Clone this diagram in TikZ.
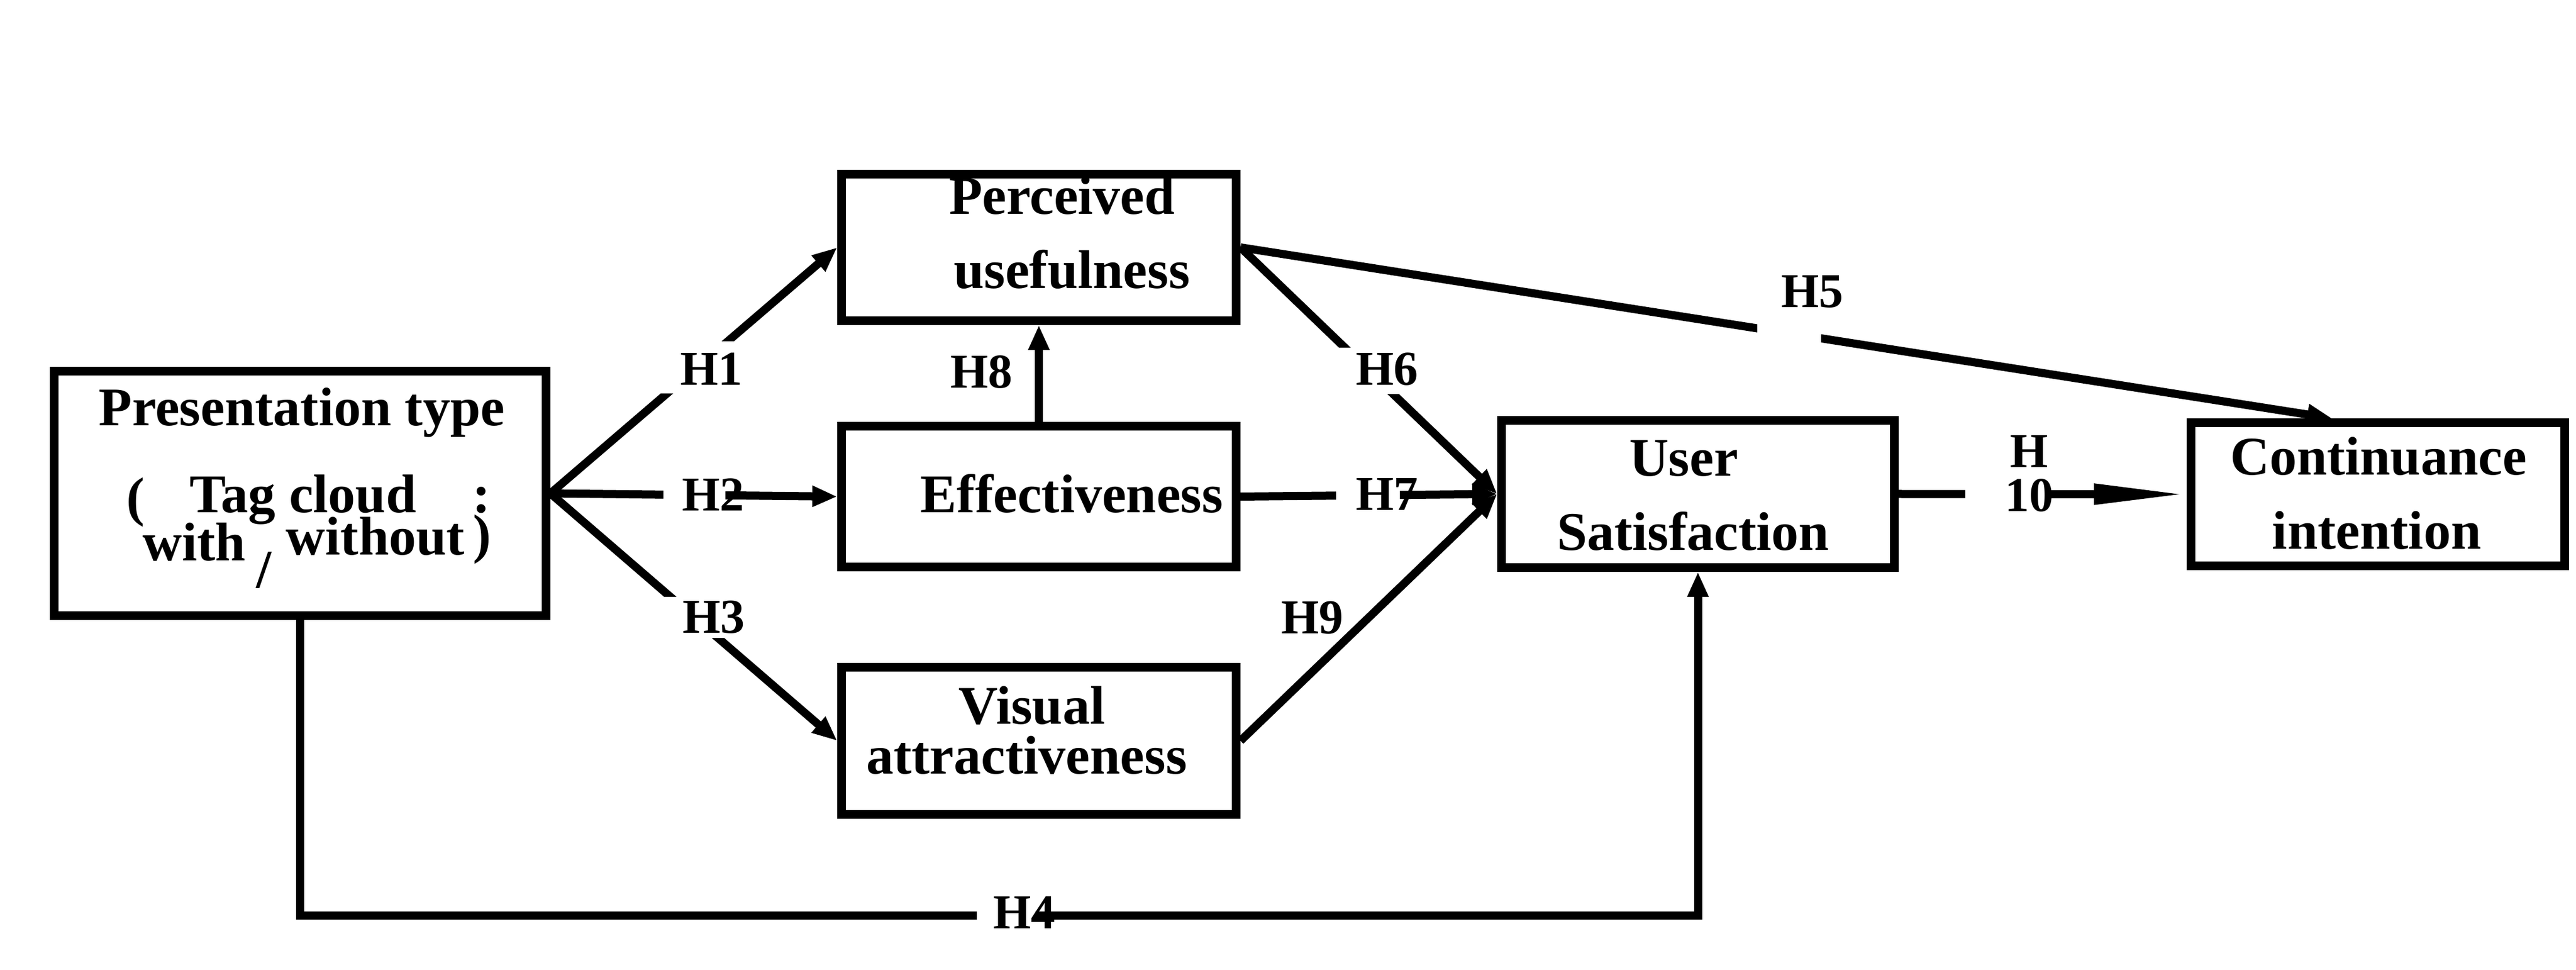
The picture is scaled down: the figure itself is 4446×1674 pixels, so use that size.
\documentclass[tikz,border=0pt]{standalone}
\usepackage{fontspec}
\setmainfont{Liberation Serif}
\usetikzlibrary{arrows.meta}
\begin{document}
\begin{tikzpicture}[x=0.2pt,y=-0.2pt,
  box/.style={draw,line width=3pt,rectangle,inner sep=0pt},
  bt/.style={anchor=base,inner sep=0pt,font=\fontsize{18.8}{22}\selectfont\bfseries},
  hl/.style={anchor=base,inner sep=0pt,font=\fontsize{16.8}{20}\selectfont\bfseries},
  gapbox/.style={fill=white,draw=none,inner sep=0pt},
  conn/.style={line width=2.8pt,line join=miter,-{Triangle[length=8.6pt,width=6.8pt]}},
  bigconn/.style={line width=2.8pt,-{Triangle[length=32pt,width=6.6pt]}}]
\useasboundingbox (0,0) rectangle (4446,1674);

% boxes
\node[box,minimum width=169.8pt,minimum height=84.4pt] (pt) at (518,851.5) {};
\node[box,minimum width=136.2pt,minimum height=50.6pt] (pu) at (1793,427) {};
\node[box,minimum width=136.2pt,minimum height=48.6pt] (eff) at (1793,857) {};
\node[box,minimum width=136.2pt,minimum height=50.8pt] (va) at (1793,1278.5) {};
\node[box,minimum width=135.6pt,minimum height=50.8pt] (us) at (2930.5,852.5) {};
\node[box,minimum width=129pt,minimum height=49.4pt] (ci) at (4104,853) {};

% box texts
\node[bt] (pt1) at (521,735) {Presentation type};
\node[bt] (pt2a) at (234,890) {(};
\node[bt,text depth=0pt] (pt2b) at (523,885) {Tag cloud};
\node[bt] (pt2c) at (831,885) {:};
\node[bt] (pt3a) at (335,968) {with};
\node[bt] (pt3b) at (456,1015) {/};
\node[bt,text height=0.6em] (pt3c) at (648,958) {without};
\node[bt,text height=0.6em] (pt3d) at (832,954) {)};
\node[bt] (pu1) at (1833,370) {Perceived};
\node[bt] (pu2) at (1850,498) {usefulness};
\node[bt] (eff1) at (1850,885) {Effectiveness};
\node[bt] (va1) at (1781,1249) {Visual};
\node[bt] (va2) at (1772,1335) {attractiveness};
\node[bt] (us1) at (2906,822) {User};
\node[bt] (us2) at (2922,950) {Satisfaction};
\node[bt] (ci1) at (4105,820) {Continuance};
\node[bt] (ci2) at (4102,948) {intention};

% connectors
\coordinate (h4l) at (518,1580);
\coordinate (ci5) at (4025,722);
\draw[conn] (pt.east) -- (pu.west);
\draw[conn] (pt.east) -- (eff.west);
\draw[conn] (pt.east) -- (va.west);
\draw[conn] (pt.south) -- (h4l) -| (us.south);
\draw[conn] (pu.east) -- (ci5);
\draw[conn] (pu.east) -- (us.west);
\draw[conn] (eff.east) -- (us.west);
\draw[conn] (eff.north) -- (pu.south);
\draw[conn] (va.east) -- (us.west);
\draw[bigconn] (us.east) -- (ci.west);

% gaps in connectors
\node[gapbox,minimum width=29pt,minimum height=18pt] (g1) at (1202.5,634) {};
\node[gapbox,minimum width=21.4pt,minimum height=9pt] (g2) at (1198.5,857) {};
\node[gapbox,minimum width=29pt,minimum height=14.2pt] (g3) at (1202.5,1065.5) {};
\node[gapbox,minimum width=20.2pt,minimum height=8pt] (g4) at (1736.5,1580) {};
\node[gapbox,minimum width=22pt,minimum height=10pt] (g5) at (3088,575) {};
\node[gapbox,minimum width=30pt,minimum height=16pt] (g6) at (2365,640) {};
\node[gapbox,minimum width=22pt,minimum height=9pt] (g7) at (2361,852.5) {};
\node[gapbox,minimum width=29.2pt,minimum height=9pt] (g10) at (3465,852.5) {};

% hypothesis labels
\node[hl] (h1) at (1228,665) {H1};
\node[hl] (h2) at (1231,882) {H2};
\node[hl] (h3) at (1232,1092) {H3};
\node[hl] (h4) at (1768,1602) {H4};
\node[hl] (h5) at (3128,531) {H5};
\node[hl] (h6) at (2394,665) {H6};
\node[hl] (h7) at (2394,881) {H7};
\node[hl] (h8) at (1694,670) {H8};
\node[hl] (h9) at (2265,1093) {H9};
\node[hl] (h10a) at (3502,807) {H};
\node[hl] (h10b) at (3502,883) {10};
\end{tikzpicture}
\end{document}
